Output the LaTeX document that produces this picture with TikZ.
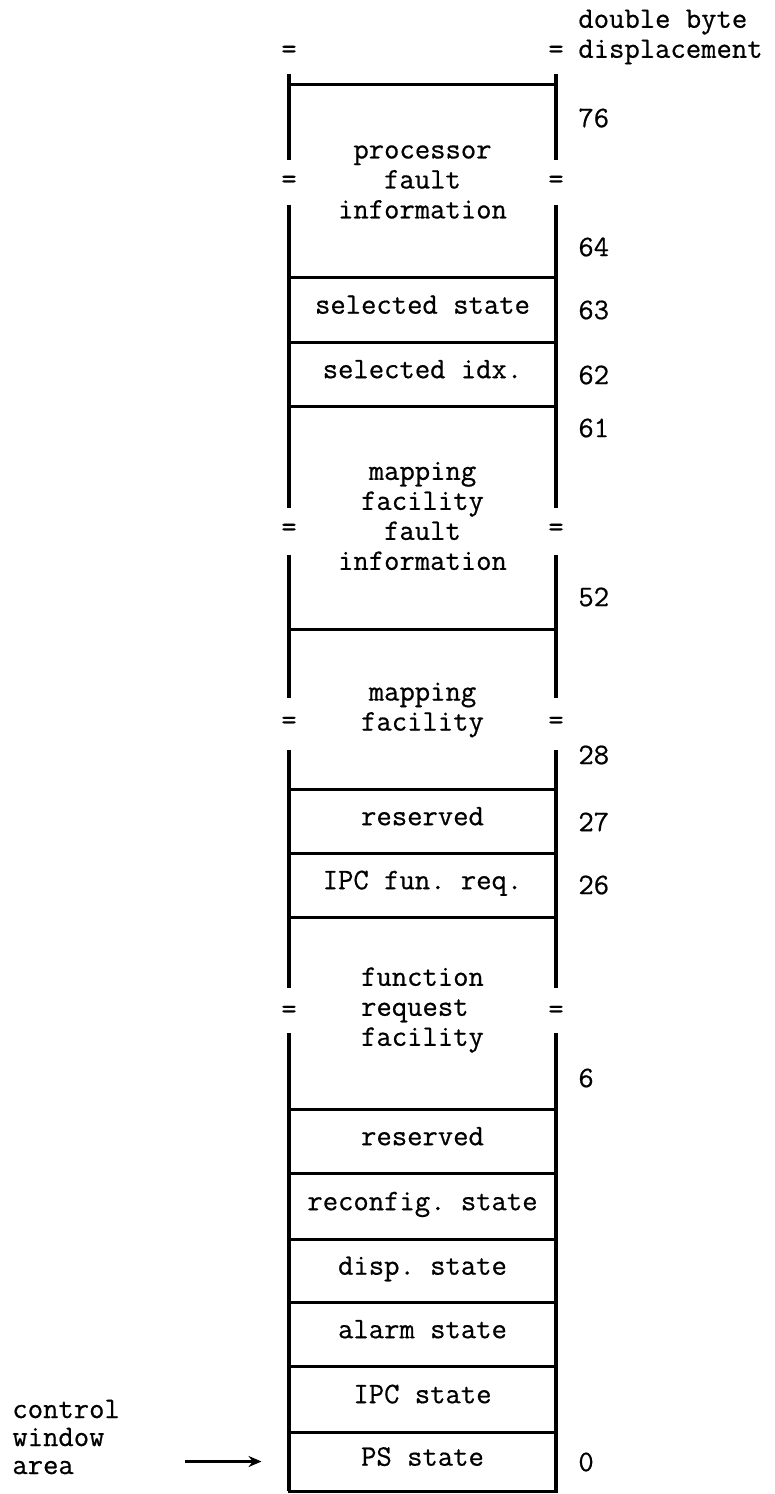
\documentclass[tikz,border=0pt]{standalone}
\usepackage{fontspec}
\setmonofont[FakeBold=0.6]{Latin Modern Mono}
\usetikzlibrary{arrows.meta}

\tikzset{
  wall/.style={line width=1.7pt},
  field/.style={draw,line width=1.5pt,minimum width=133.5pt,text height=0.62em,text depth=0.2em},
}

\begin{document}
\begin{tikzpicture}[x=0.5pt,y=-0.5pt,>={Stealth[length=6.5pt,width=5.5pt]},inner sep=0pt,font=\fontsize{14.9}{15}\selectfont\ttfamily\frenchspacing]
\useasboundingbox (0,0) rectangle (775,1494);
% side walls, broken where the = marks sit
\foreach \x in {289,556}
  \draw[wall] (\x,74)--(\x,160) (\x,205)--(\x,508) (\x,555)--(\x,698) (\x,750)--(\x,988) (\x,1033)--(\x,1491);
\draw[line width=1.5pt] (289,84)--(556,84) (289,629)--(556,629);
\foreach \y [count=\i] in {52,182,530,723,1012}{
  \node (eql\i) at (289,\y) {=};
  \node (eqr\i) at (556,\y) {=};
}
\foreach \t/\b/\txt/\nm in {277/342/selected state/selst, 342/406/selected idx./selidx,
    789/853/reserved/resa, 853/917/IPC fun. req./ipcfun, 1109/1173/reserved/resb,
    1173/1239/reconfig. state/reconf, 1239/1302/disp. state/dispst,
    1302/1366/alarm state/alarm, 1366/1432/IPC state/ipcst, 1432/1491/PS state/ps}
  \node[field,minimum height={(\b-\t)*0.5pt}] (\nm) at (422.5,{(\t+\b)/2}) {\txt};
\node[align=center] (procfault) at (422.5,182) {processor\\fault\\information};
\node[align=center] (mapfault) at (422.5,516) {mapping\\facility\\fault\\information};
\node[align=center] (mapfac) at (422.5,710) {mapping\\facility};
\node[align=left] (funreq) at (422.5,1010) {function\\request\\facility};
% displacements
\foreach \y/\n in {118/76,247/64,310/63,375/62,428/61,597/52,755/28,822/27,885/26,1078/6,1462/0}
  \node[anchor=west] (d\n) at (578,\y) {\n};
\node[anchor=west,align=left] (dispcol) at (578,37) {double byte\\displacement};
\node[anchor=west,align=left,font=\fontsize{14.9}{14}\selectfont\ttfamily] (cwa) at (12,1437) {control\\window\\area};
\coordinate (tail) at (185,1461.5);
\draw[->,line width=1.2pt,shorten >=13pt] (tail) -- (ps.west);
\end{tikzpicture}
\end{document}
